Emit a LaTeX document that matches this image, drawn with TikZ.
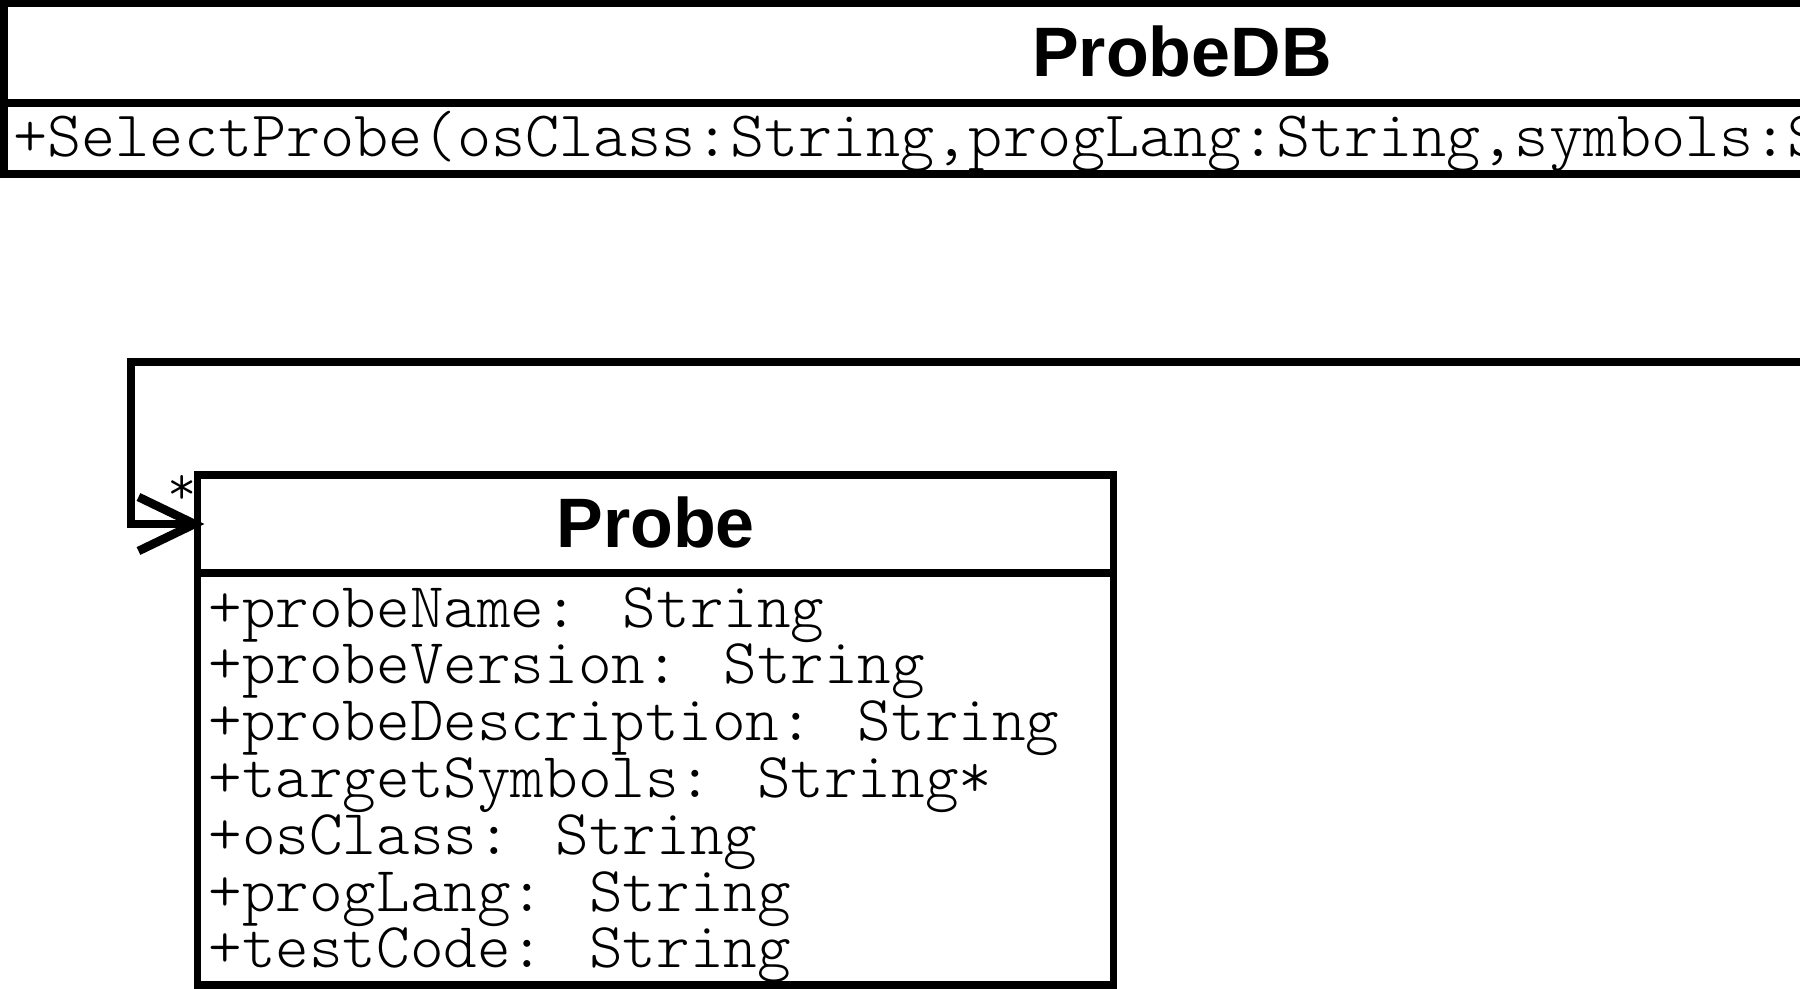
\documentclass[tikz,border=0pt]{standalone}
\usepackage{fontspec}
\setsansfont{Liberation Sans}
\newfontfamily\umlmono{Latin Modern Mono Light}
\usetikzlibrary{calc}
\begin{document}
\begin{tikzpicture}[x=0.5pt,y=-0.5pt,
  box/.style={draw, line width=3.8pt, inner sep=0pt, outer sep=0pt},
  titletext/.style={font=\sffamily\bfseries\fontsize{35}{35}\selectfont, inner sep=0pt, anchor=base},
  attrtext/.style={font=\umlmono\fontsize{32}{28.4}\selectfont, inner sep=0pt, anchor=base west},
  optext/.style={font=\umlmono\fontsize{32.5}{28.4}\selectfont, inner sep=0pt, anchor=base west},
  multtext/.style={font=\umlmono\fontsize{28}{28}\selectfont, inner sep=0pt, anchor=base},
  assoc/.style={line width=3.8pt},
  assochead/.style={line width=4.3pt, line join=miter}]
\useasboundingbox (0,0) rectangle (1800,989);
\clip (0,0) rectangle (1800,989);
% ProbeDB class
\node[box, minimum width=1178.25pt, minimum height=49.75pt] (probedb) at (1182,53.25) {};
\node[box, minimum width=1178.25pt, minimum height=35.5pt] (probedbops) at (1182,138.5) {};
\node[titletext] (probedbname) at (1182,77) {ProbeDB};
\node[optext] (op1) at (13,157) {+SelectProbe(osClass:String,progLang:String,symbols:S};
% Probe class
\node[box, minimum width=458pt, minimum height=49pt] (probetitle) at (655.5,524) {};
\node[box, minimum width=458pt, minimum height=206pt] (probeattrs) at (655.5,779) {};
\node[titletext] (probename) at (655.5,548) {Probe};
\foreach \t [count=\i] in {+probeName: String,+probeVersion: String,+probeDescription: String,+targetSymbols: String*,+osClass: String,+progLang: String,+testCode: String}
  \node[attrtext] (attr\i) at (208,{627+56.8*(\i-1)}) {\t};
% association
\coordinate (src) at (1850,362);
\coordinate (bend) at (131,362);
\draw[assoc] (src) -- (bend) |- ($(probetitle.west)+(-3,0)$);
\draw[assochead] ($(probetitle.west)+(-59,-27)$) -- ($(probetitle.west)+(-3,0)$) -- ($(probetitle.west)+(-59,27)$);
\node[multtext] (mult) at (182,505) {*};
\end{tikzpicture}
\end{document}
